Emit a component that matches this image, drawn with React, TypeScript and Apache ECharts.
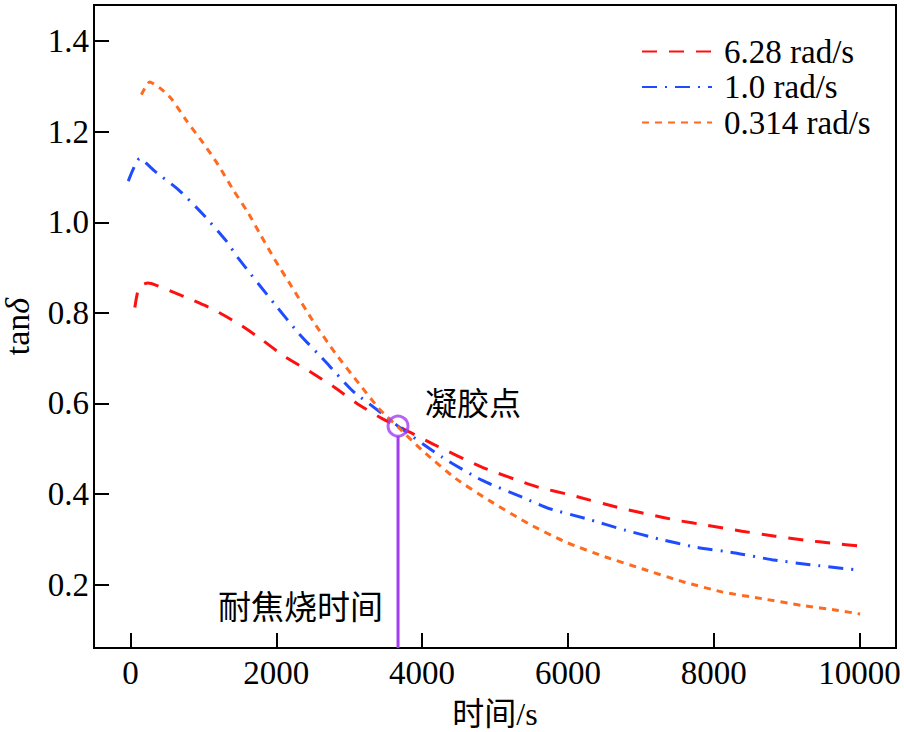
import React, { useEffect, useRef } from "react";
import * as echarts from "echarts";

const xTicks = [0, 2000, 4000, 6000, 8000, 10000];
const yTicks = [0.2, 0.4, 0.6, 0.8, 1.0, 1.2, 1.4];

const seriesNames = ["6.28 rad/s", "1.0 rad/s", "0.314 rad/s"];

const redT = [60, 120, 240, 355, 767, 1131, 1473, 1793, 2112, 2455, 2797, 3116, 3458, 3670, 4143, 4827, 5558, 6059, 6743, 7118, 7496, 7907, 8386, 8843, 9254, 9642, 10000];
const redV = [0.812, 0.858, 0.866, 0.861, 0.834, 0.808, 0.777, 0.742, 0.704, 0.671, 0.636, 0.599, 0.566, 0.55, 0.511, 0.459, 0.417, 0.397, 0.368, 0.355, 0.342, 0.331, 0.318, 0.307, 0.298, 0.291, 0.285];

const blueT = [-30, 127, 333, 652, 994, 1314, 1473, 1975, 2318, 2683, 3047, 3458, 3670, 4279, 4827, 5375, 5740, 6242, 6790, 7245, 7770, 8296, 8797, 9322, 9823, 9950];
const blueV = [1.091, 1.141, 1.113, 1.073, 1.018, 0.959, 0.922, 0.82, 0.753, 0.691, 0.628, 0.577, 0.55, 0.481, 0.43, 0.393, 0.368, 0.346, 0.32, 0.301, 0.282, 0.27, 0.255, 0.244, 0.235, 0.233];

const orangeT = [150, 264, 401, 561, 767, 994, 1199, 1405, 1610, 1793, 1975, 2204, 2500, 2819, 3139, 3413, 3670, 4005, 4463, 4918, 5466, 5968, 6516, 7017, 7565, 8112, 8660, 9208, 9710, 10007];
const orangeV = [1.282, 1.31, 1.297, 1.273, 1.225, 1.176, 1.128, 1.073, 1.022, 0.97, 0.919, 0.86, 0.783, 0.709, 0.643, 0.588, 0.548, 0.496, 0.434, 0.386, 0.334, 0.294, 0.261, 0.235, 0.207, 0.184, 0.169, 0.154, 0.143, 0.135];

const gelT = 3670;
const gelV = 0.55;
const gelLineV = [0.06, 0.528];

const gelLabel = "凝胶点";
const scorchLabel = "耐焦烧时间";

const FONT = '"Liberation Serif", "Noto Sans CJK SC", serif';

const zip = (t: number[], v: number[]) => t.map((x, i) => [x, v[i]]);

export default function App() {
  const ref = useRef<HTMLDivElement>(null);
  useEffect(() => {
    if (!ref.current) return;
    const chart = echarts.init(ref.current, null, { renderer: "svg" });
    const purple = "#A23CF5";
    chart.setOption({
      animation: false,
      backgroundColor: "#fff",
      grid: {
        left: 94,
        right: 8,
        top: 5,
        bottom: 84,
        containLabel: false,
        outerBoundsMode: "none",
        show: true,
        borderColor: "#000",
        borderWidth: 2,
      },
      legend: {
        orient: "vertical",
        left: 641,
        top: 35,
        itemWidth: 70,
        itemHeight: 10,
        itemGap: 2.5,
        padding: 0,
        data: seriesNames,
        itemStyle: { opacity: 0 },
        textStyle: {
          fontFamily: FONT,
          fontSize: 33,
          color: "#000",
          lineHeight: 33,
          padding: [0, 0, 0, 7],
        },
      },
      xAxis: {
        type: "value",
        min: -500,
        max: 10500,
        name: "时间/s",
        nameLocation: "middle",
        nameGap: 50,
        nameTextStyle: { fontFamily: FONT, fontSize: 32, color: "#000", lineHeight: 32 },
        axisLine: { show: true, onZero: false, lineStyle: { color: "#000", width: 2 } },
        axisTick: {
          show: true,
          inside: true,
          length: 15,
          lineStyle: { color: "#000", width: 2 },
          customValues: xTicks,
        },
        axisLabel: {
          fontFamily: FONT,
          fontSize: 33,
          color: "#000",
          margin: 8,
          customValues: xTicks,
          formatter: (v: number) => String(v),
        },
        splitLine: { show: false },
      },
      yAxis: {
        type: "value",
        min: 0.06,
        max: 1.48,
        name: "{a|tan}{b|δ}",
        nameLocation: "middle",
        nameRotate: 90,
        nameGap: 62,
        nameTextStyle: {
          rich: {
            a: { fontFamily: FONT, fontSize: 34, color: "#000", lineHeight: 30 },
            b: { fontFamily: FONT, fontSize: 34, color: "#000", fontStyle: "italic", lineHeight: 30 },
          },
        },
        axisLine: { show: true, onZero: false, lineStyle: { color: "#000", width: 2 } },
        axisTick: {
          show: true,
          inside: true,
          length: 15,
          lineStyle: { color: "#000", width: 2 },
          customValues: yTicks,
        },
        axisLabel: {
          fontFamily: FONT,
          fontSize: 33,
          color: "#000",
          margin: 5,
          customValues: yTicks,
          formatter: (v: number) => v.toFixed(1),
        },
        splitLine: { show: false },
      },
      series: [
        {
          name: seriesNames[0],
          type: "line",
          symbol: "none",
          smooth: 0.2,
          data: zip(redT, redV),
          lineStyle: { color: "#FF1010", width: 3, type: [15, 12] },
          itemStyle: { color: "#FF1010" },
          z: 3,
        },
        {
          name: seriesNames[1],
          type: "line",
          symbol: "none",
          smooth: 0.2,
          data: zip(blueT, blueV),
          lineStyle: { color: "#1F4CFF", width: 3, type: [15, 8, 2, 8] },
          itemStyle: { color: "#1F4CFF" },
          z: 3,
        },
        {
          name: seriesNames[2],
          type: "line",
          symbol: "none",
          smooth: 0.2,
          data: zip(orangeT, orangeV),
          lineStyle: { color: "#FF6A1F", width: 3, type: [7, 6] },
          itemStyle: { color: "#FF6A1F" },
          z: 3,
        },
        {
          name: "gelLine",
          type: "line",
          symbol: "none",
          data: gelLineV.map((v) => [gelT, v]),
          lineStyle: { color: purple, width: 3, type: "solid" },
          z: 4,
          silent: true,
        },
        {
          name: "gelPoint",
          type: "scatter",
          symbol: "circle",
          symbolSize: 20,
          data: [[gelT, gelV]],
          itemStyle: { color: "rgba(0,0,0,0)", borderColor: purple, borderWidth: 3 },
          z: 5,
          silent: true,
        },
      ],
      graphic: [
        {
          type: "text",
          left: 425,
          top: 385,
          style: { text: gelLabel, font: '32px "Noto Sans CJK SC", sans-serif', fill: "#000" },
        },
        {
          type: "text",
          left: 218,
          top: 588,
          style: { text: scorchLabel, font: '33px "Noto Sans CJK SC", sans-serif', fill: "#000" },
        },
      ],
    });
    return () => chart.dispose();
  }, []);
  return (
    <div
      ref={ref}
      style={{ position: "fixed", left: 0, top: 0, width: 904, height: 732 }}
    />
  );
}
